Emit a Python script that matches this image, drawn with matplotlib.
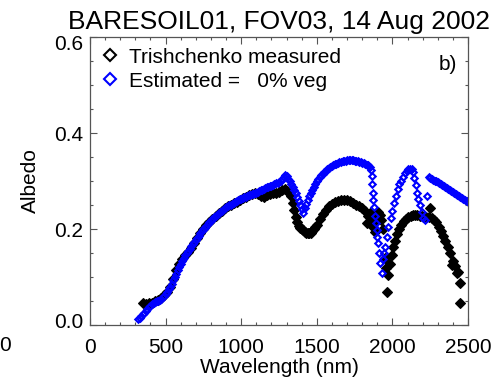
import matplotlib
matplotlib.use("Agg")
import matplotlib.pyplot as plt
import matplotlib.transforms as mtrans
from matplotlib.lines import Line2D
from matplotlib.ticker import MultipleLocator

plt.rcParams["font.family"] = ["Liberation Sans", "DejaVu Sans"]

# measured (Trishchenko) albedo
wl_meas = [350, 370, 390, 410, 430, 450, 470, 490, 510, 530, 550, 570, 590, 610,
           630, 650, 670, 690, 710, 730, 750, 770, 790, 810, 830, 850, 870, 890,
           910, 930, 950, 970, 990, 1010, 1030, 1050, 1070, 1090, 1110, 1130,
           1150, 1170, 1190, 1210, 1230, 1250, 1270, 1290, 1305, 1320, 1330,
           1340, 1350, 1360, 1370, 1380, 1390, 1400, 1410, 1420, 1430, 1440,
           1450, 1460, 1470, 1480, 1490, 1500, 1520, 1540, 1560, 1580, 1600,
           1620, 1640, 1660, 1680, 1700, 1720, 1740, 1760, 1780, 1800, 1820,
           1830, 1840, 1850, 1860, 1870, 1874, 1880, 1885, 1890, 1900, 1907,
           1918, 1925, 1935, 1950, 1955, 1962, 1973, 1984, 1995, 2006, 2017,
           2030, 2045, 2060, 2075, 2090, 2105, 2120, 2135, 2150, 2165, 2180,
           2195, 2210, 2225, 2240, 2249, 2260, 2275, 2290, 2305, 2320, 2335,
           2350, 2365, 2380, 2392, 2400, 2414, 2425, 2435, 2447, 2447]
alb_meas = [.045, .043, .046, .046, .049, .052, .057, .063, .069, .079, .095, .114,
            .128, .137, .145, .152, .160, .170, .181, .192, .201, .208, .214, .221,
            .228, .234, .238, .243, .247, .251, .254, .257, .261, .264, .267, .270,
            .273, .275, .273, .268, .266, .270, .272, .274, .276, .278, .281, .283,
            .279, .274, .268, .255, .240, .225, .214, .207, .203, .200, .197, .194,
            .192, .191, .191, .192, .195, .199, .204, .209, .221, .231, .240, .247,
            .252, .256, .259, .261, .261, .260, .258, .255, .251, .247, .243, .238,
            .212, .228, .234, .222, .230, .205, .215, .194, .225, .232, .236, .229,
            .218, .200, .140, .118, .069, .104, .128, .145, .163, .176, .190, .201,
            .209, .216, .221, .225, .228, .229, .229, .229, .228, .227, .226, .224,
            .226, .243, .222, .219, .214, .204, .196, .186, .174, .162, .150, .125,
            .133, .122, .108, .110, .087, .045]

# estimated albedo, 0% vegetation: visible/NIR part on a 10 nm grid
wl_est_a = list(range(320, 1860, 10))
alb_est_a = [.012, .015, .019, .022, .026, .030, .033, .037, .040, .043,
             .045, .047, .049, .051, .053, .055, .058, .061, .065, .069,
             .074, .080, .086, .093, .100, .107, .114, .121, .128, .134,
             .140, .145, .150, .155, .159, .164, .168, .173, .177, .182,
             .186, .191, .195, .199, .203, .207, .210, .214, .217, .221,
             .224, .227, .230, .233, .235, .238, .240, .243, .245, .247,
             .249, .251, .253, .255, .257, .259, .260, .262, .263, .265,
             .266, .267, .268, .270, .271, .272, .273, .275, .276, .278,
             .279, .281, .282, .284, .285, .287, .288, .289, .290, .292,
             .293, .295, .296, .298, .300, .304, .309, .313, .311, .305,
             .299, .293, .287, .281, .274, .266, .258, .250, .241, .234,
             .243, .252, .260, .268, .275, .282, .288, .294, .299, .304,
             .308, .312, .315, .318, .321, .324, .327, .329, .331, .333,
             .335, .336, .338, .339, .340, .341, .342, .342, .343, .343,
             .343, .343, .343, .342, .342, .341, .340, .339, .338, .337,
             .336, .334, .333, .330]
# water-band part
wl_est_b = [1858, 1863, 1867, 1870, 1874, 1880, 1885, 1892, 1896, 1900, 1907,
            1912, 1918, 1929, 1936, 1945, 1951, 1962, 1973, 1989, 2000, 2013,
            2024, 2035, 2046, 2057, 2068, 2083, 2095, 2105, 2118, 2128, 2139,
            2145, 2154, 2161, 2172, 2183, 2194, 2205, 2216, 2227]
alb_est_b = [.322, .310, .293, .276, .260, .245, .228, .213, .198, .183, .170,
             .150, .130, .109, .137, .150, .162, .183, .205, .222, .238, .255,
             .269, .283, .293, .301, .309, .317, .321, .324, .326, .326, .319,
             .306, .292, .276, .262, .250, .236, .222, .218, .269]
# SWIR tail
wl_est_c = list(range(2240, 2510, 10))
alb_est_c = [.309, .307, .305, .303, .301, .299, .297, .295, .293, .291,
             .289, .287, .285, .283, .281, .279, .277, .275, .273, .271,
             .269, .267, .265, .263, .261, .259, .257]

wl_est = wl_est_a + wl_est_b + wl_est_c
alb_est = alb_est_a + alb_est_b + alb_est_c

fig = plt.figure(figsize=(4.99, 3.83), dpi=100)
ax = fig.add_axes([0.1804, 0.1514, 0.7575, 0.752])

ax.plot(wl_meas, alb_meas, linestyle="none", marker="D", markersize=5.5,
        color="black", markeredgewidth=0.8)
ax.plot(wl_est, alb_est, linestyle="none", marker="D", markersize=3.3,
        markerfacecolor="none", markeredgecolor="#0000ff", markeredgewidth=1.5)

ax.set_xlim(0, 2500)
ax.set_ylim(0, 0.6)
ax.set_xticks([0, 500, 1000, 1500, 2000, 2500])
ax.set_yticks([0.0, 0.2, 0.4, 0.6])
ax.set_yticklabels(["0.0", "0.2", "0.4", "0.6"])
ax.xaxis.set_minor_locator(MultipleLocator(100))
ax.yaxis.set_minor_locator(MultipleLocator(0.05))
ax.tick_params(which="both", direction="in", top=True, right=True,
               labelsize=15, color="#555555")
ax.tick_params(which="major", length=5, width=0.8)
ax.tick_params(which="minor", length=2.5, width=0.8)
ax.tick_params(axis="x", pad=9)
ax.tick_params(axis="y", pad=5)
for sp in ax.spines.values():
    sp.set_color("#555555")
    sp.set_linewidth(0.9)

# end labels sit inside the axis range, like in the original
ylabels = ax.get_yticklabels()
ylabels[0].set_transform(ylabels[0].get_transform() +
                         mtrans.ScaledTranslation(0, 0.05, fig.dpi_scale_trans))
ylabels[-1].set_transform(ylabels[-1].get_transform() +
                          mtrans.ScaledTranslation(0, -0.06, fig.dpi_scale_trans))

ax.set_xlabel("Wavelength (nm)", fontsize=15, labelpad=1)
ax.set_ylabel("Albedo", fontsize=15, labelpad=10)
ax.set_title("BARESOIL01, FOV03, 14 Aug 2002", fontsize=19, pad=6)

handles = [
    Line2D([], [], linestyle="none", marker="D", markersize=6,
           markerfacecolor="none", markeredgecolor="black", markeredgewidth=1.5),
    Line2D([], [], linestyle="none", marker="D", markersize=6,
           markerfacecolor="none", markeredgecolor="#0000ff", markeredgewidth=1.5),
]
ax.legend(handles, ["Trishchenko measured", "Estimated =   0% veg"],
          loc="upper left", bbox_to_anchor=(0.014, 0.985), frameon=False,
          fontsize=15, handlelength=0.8, handletextpad=0.5, borderaxespad=0.1,
          labelspacing=0.25, borderpad=0.2)

ax.text(0.97, 0.905, "b)", transform=ax.transAxes, fontsize=15,
        ha="right", va="center")
fig.text(0.011, 0.099, "0", fontsize=15, ha="center", va="center")

fig.savefig("out.png", dpi=100)
